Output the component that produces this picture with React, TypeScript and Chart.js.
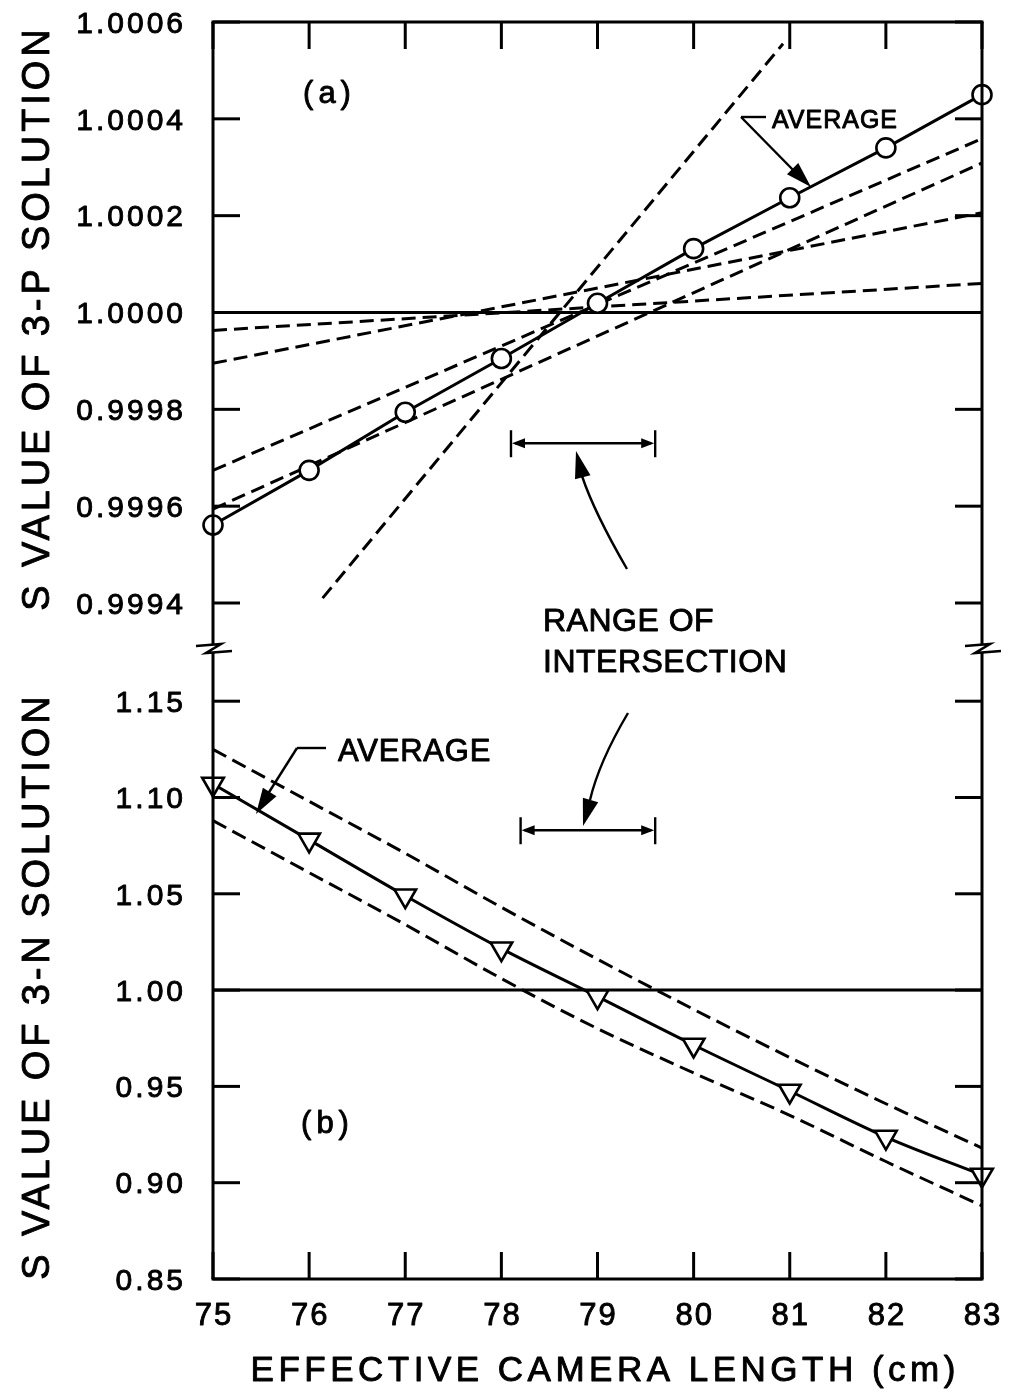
import React, { useEffect, useRef } from "react";
import { Chart, registerables } from "chart.js";

Chart.register(...registerables);

// ---------- data ----------
const cameraLength = [75, 76, 77, 78, 79, 80, 81, 82, 83];

// (a) 3-P solution
const pAverage = [0.999561, 0.999674, 0.999794, 0.999905, 1.000019, 1.000132, 1.000237, 1.00034, 1.00045];
const pLineAX = [75, 83];
const pLineAY = [0.999963, 1.00006];
const pLineBX = [75, 83];
const pLineBY = [0.999895, 1.000206];
const pLineCX = [75, 83];
const pLineCY = [0.999674, 1.000359];
const pLineDX = [75, 83];
const pLineDY = [0.999594, 1.000309];
const pLineEX = [76.14, 80.93];
const pLineEY = [0.99941, 1.000555];
const unityX = [75, 83];
const unityY = [1, 1];

// (b) 3-N solution
const nAverage = [1.107, 1.078, 1.049, 1.0215, 0.9966, 0.9715, 0.9476, 0.9237, 0.904];
const nUpper = [1.125, 1.098, 1.071, 1.043, 1.016, 0.99, 0.965, 0.941, 0.918];
const nLower = [1.088, 1.061, 1.034, 1.006, 0.98, 0.957, 0.935, 0.911, 0.888];

// ticks
const xTickValues = [75, 76, 77, 78, 79, 80, 81, 82, 83];
const xTickLabels = ["75", "76", "77", "78", "79", "80", "81", "82", "83"];
const pTickValues = [0.9994, 0.9996, 0.9998, 1.0, 1.0002, 1.0004, 1.0006];
const pTickLabels = ["0.9994", "0.9996", "0.9998", "1.0000", "1.0002", "1.0004", "1.0006"];
const nTickValues = [0.85, 0.9, 0.95, 1.0, 1.05, 1.1, 1.15];
const nTickLabels = ["0.85", "0.90", "0.95", "1.00", "1.05", "1.10", "1.15"];

// range of intersection
const pRangeX = [78.1, 79.6];
const pRangeY = 0.99973;
const nRangeX = [78.2, 79.6];
const nRangeY = 1.083;

// ---------- helpers ----------
const FONT = '"Liberation Sans", Arial, sans-serif';

const pts = (xs: number[], ys: number[]) => xs.map((x, i) => ({ x, y: ys[i] }));

function drawText(
  ctx: CanvasRenderingContext2D,
  s: string,
  x: number,
  cy: number,
  size: number,
  spacing: number,
  align: "left" | "center" | "right",
  rotate = false
) {
  ctx.save();
  ctx.font = `${size}px ${FONT}`;
  (ctx as any).letterSpacing = "0px";
  const n = Array.from(s).length;
  const w = ctx.measureText(s).width + spacing * (n - 1);
  ctx.textAlign = "left";
  ctx.textBaseline = "alphabetic";
  (ctx as any).letterSpacing = spacing + "px";
  ctx.fillStyle = "#000";
  ctx.strokeStyle = "#000";
  ctx.lineWidth = 0.9;
  ctx.lineJoin = "round";
  const base = 0.358 * size;
  if (rotate) {
    ctx.translate(x, cy);
    ctx.rotate(-Math.PI / 2);
    ctx.fillText(s, -w / 2, base);
    ctx.strokeText(s, -w / 2, base);
  } else {
    const x0 = align === "left" ? x : align === "center" ? x - w / 2 : x - w;
    ctx.fillText(s, x0, cy + base);
    ctx.strokeText(s, x0, cy + base);
  }
  ctx.restore();
}

function seg(ctx: CanvasRenderingContext2D, x1: number, y1: number, x2: number, y2: number) {
  ctx.beginPath();
  ctx.moveTo(x1, y1);
  ctx.lineTo(x2, y2);
  ctx.stroke();
}

function arrowHead(
  ctx: CanvasRenderingContext2D,
  tipX: number,
  tipY: number,
  fromX: number,
  fromY: number,
  len: number,
  half: number
) {
  const a = Math.atan2(tipY - fromY, tipX - fromX);
  const bx = tipX - Math.cos(a) * len;
  const by = tipY - Math.sin(a) * len;
  const px = -Math.sin(a) * half;
  const py = Math.cos(a) * half;
  ctx.beginPath();
  ctx.moveTo(tipX, tipY);
  ctx.lineTo(bx + px, by + py);
  ctx.lineTo(bx - px, by - py);
  ctx.closePath();
  ctx.fill();
}

function breakMark(ctx: CanvasRenderingContext2D, x: number, y: number) {
  ctx.beginPath();
  ctx.moveTo(x - 17, y - 3);
  ctx.lineTo(x + 8, y - 5);
  ctx.lineTo(x - 7, y + 4);
  ctx.lineTo(x + 19, y + 2);
  ctx.stroke();
}

const TICK = 27;

const overlayPlugin = {
  id: "overlay",
  beforeDraw(chart: any) {
    const ctx = chart.ctx as CanvasRenderingContext2D;
    ctx.save();
    ctx.fillStyle = "#fff";
    ctx.fillRect(0, 0, chart.width, chart.height);
    ctx.restore();
  },
  afterDraw(chart: any) {
    const ctx = chart.ctx as CanvasRenderingContext2D;
    const xs = chart.scales.x;
    const yp = chart.scales.yTop;
    const yn = chart.scales.yBot;
    const L = chart.chartArea.left;
    const R = chart.chartArea.right;
    const T = yp.top;
    const M = yp.bottom;
    const B = yn.bottom;

    ctx.save();
    ctx.strokeStyle = "#000";
    ctx.fillStyle = "#000";
    ctx.lineWidth = 3;
    ctx.lineCap = "butt";

    // frame
    seg(ctx, L - 1.5, T, R + 1.5, T);
    seg(ctx, L - 1.5, B, R + 1.5, B);
    seg(ctx, L, T, L, M - 4);
    seg(ctx, L, M + 3, L, B);
    seg(ctx, R, T, R, M - 4);
    seg(ctx, R, M + 3, R, B);
    ctx.lineWidth = 2.6;
    breakMark(ctx, L, M);
    breakMark(ctx, R, M);
    ctx.lineWidth = 3;

    // ticks (inward)
    xTickValues.forEach((v) => {
      const px = xs.getPixelForValue(v);
      seg(ctx, px, T, px, T + TICK);
      seg(ctx, px, B, px, B - TICK);
    });
    pTickValues.forEach((v) => {
      const py = yp.getPixelForValue(v);
      seg(ctx, L, py, L + TICK, py);
      seg(ctx, R, py, R - TICK, py);
    });
    nTickValues.forEach((v) => {
      const py = yn.getPixelForValue(v);
      seg(ctx, L, py, L + TICK, py);
      seg(ctx, R, py, R - TICK, py);
    });

    // tick labels
    pTickValues.forEach((v, i) => {
      drawText(ctx, pTickLabels[i], L - 30, yp.getPixelForValue(v), 30, 3, "right");
    });
    nTickValues.forEach((v, i) => {
      drawText(ctx, nTickLabels[i], L - 30, yn.getPixelForValue(v), 30, 3, "right");
    });
    xTickValues.forEach((v, i) => {
      drawText(ctx, xTickLabels[i], xs.getPixelForValue(v), B + 35, 31, 2, "center");
    });

    // axis titles
    drawText(ctx, "EFFECTIVE CAMERA LENGTH (cm)", 603, 1368, 35, 4.5, "center");
    drawText(ctx, "S VALUE OF 3-P SOLUTION", 35, 320, 38, 3.9, "center", true);
    drawText(ctx, "S VALUE OF 3-N SOLUTION", 35, 988, 38, 3.9, "center", true);

    // panel labels
    drawText(ctx, "(a)", 327, 92, 31, 5, "center");
    drawText(ctx, "(b)", 325, 1122, 31, 5, "center");

    // AVERAGE (a)
    drawText(ctx, "AVERAGE", 772, 119, 25, 1, "left");
    ctx.lineWidth = 2.4;
    seg(ctx, 766, 117, 741, 117);
    seg(ctx, 741, 117, 798, 175);
    arrowHead(ctx, 811, 187, 741, 117, 26, 8);

    // AVERAGE (b)
    drawText(ctx, "AVERAGE", 338, 750, 31, 0.8, "left");
    seg(ctx, 326, 748, 297, 748);
    seg(ctx, 297, 748, 266, 797);
    arrowHead(ctx, 256, 814, 297, 748, 26, 8);

    // RANGE OF INTERSECTION
    drawText(ctx, "RANGE OF", 543, 620, 32, 0.5, "left");
    drawText(ctx, "INTERSECTION", 543, 661, 32, 0.5, "left");

    // upward curved arrow
    ctx.beginPath();
    ctx.moveTo(627, 569);
    ctx.quadraticCurveTo(594, 512, 582, 476);
    ctx.stroke();
    arrowHead(ctx, 576, 451, 584, 482, 27, 8);

    // downward curved arrow
    ctx.beginPath();
    ctx.moveTo(628, 713);
    ctx.quadraticCurveTo(599, 762, 590, 800);
    ctx.stroke();
    arrowHead(ctx, 583, 826, 592, 795, 27, 8);

    // range bars
    const rangeBar = (x1: number, x2: number, y: number) => {
      ctx.lineWidth = 2.4;
      seg(ctx, x1, y - 13, x1, y + 14);
      seg(ctx, x2, y - 13, x2, y + 14);
      seg(ctx, x1 + 4, y, x2 - 4, y);
      arrowHead(ctx, x1 + 1, y, x1 + 20, y, 13, 5);
      arrowHead(ctx, x2 - 1, y, x2 - 20, y, 13, 5);
    };
    rangeBar(xs.getPixelForValue(pRangeX[0]), xs.getPixelForValue(pRangeX[1]), yp.getPixelForValue(pRangeY));
    rangeBar(xs.getPixelForValue(nRangeX[0]), xs.getPixelForValue(nRangeX[1]), yn.getPixelForValue(nRangeY));

    ctx.restore();
  },
};

const DASH_P = [14, 7];
const DASH_N = [15, 7];

function lineDs(data: any[], yAxisID: string, dash: number[], width = 3, tension = 0) {
  return {
    data,
    yAxisID,
    xAxisID: "x",
    showLine: true,
    borderColor: "#000",
    borderWidth: width,
    borderDash: dash,
    pointRadius: 0,
    pointHoverRadius: 0,
    tension,
    clip: false,
    fill: false,
  };
}

export default function App() {
  const ref = useRef<HTMLCanvasElement>(null);

  useEffect(() => {
    if (!ref.current) return;
    const hidden = {
      ticks: { display: false },
      grid: { display: false, drawTicks: false },
      border: { display: false },
      title: { display: false },
    };
    const chart = new Chart(ref.current, {
      type: "scatter",
      data: {
        datasets: [
          {
            data: pts(cameraLength, pAverage),
            yAxisID: "yTop",
            xAxisID: "x",
            showLine: true,
            borderColor: "#000",
            borderWidth: 3,
            pointStyle: "circle",
            pointRadius: 9.5,
            pointBackgroundColor: "#fff",
            pointBorderColor: "#000",
            pointBorderWidth: 2.6,
            clip: false,
          } as any,
          {
            data: pts(cameraLength, nAverage),
            yAxisID: "yBot",
            xAxisID: "x",
            showLine: true,
            borderColor: "#000",
            borderWidth: 3,
            cubicInterpolationMode: "monotone",
            pointStyle: "triangle",
            pointRotation: 180,
            pointRadius: 12.5,
            pointBackgroundColor: "#fff",
            pointBorderColor: "#000",
            pointBorderWidth: 2.6,
            clip: false,
          } as any,
          lineDs(pts(unityX, unityY), "yTop", []),
          lineDs(pts(pLineAX, pLineAY), "yTop", DASH_P),
          lineDs(pts(pLineBX, pLineBY), "yTop", DASH_P),
          lineDs(pts(pLineCX, pLineCY), "yTop", DASH_P),
          lineDs(pts(pLineDX, pLineDY), "yTop", DASH_P),
          lineDs(pts(pLineEX, pLineEY), "yTop", DASH_P),
          lineDs(pts(unityX, unityY), "yBot", []),
          { ...lineDs(pts(cameraLength, nUpper), "yBot", DASH_N), cubicInterpolationMode: "monotone" } as any,
          { ...lineDs(pts(cameraLength, nLower), "yBot", DASH_N), cubicInterpolationMode: "monotone" } as any,
        ],
      },
      options: {
        animation: false,
        responsive: false,
        devicePixelRatio: 1,
        events: [],
        layout: { padding: { left: 213, right: 28, top: 22, bottom: 116 } },
        plugins: { legend: { display: false }, tooltip: { enabled: false } },
        scales: {
          x: { type: "linear", min: 75, max: 83, position: "bottom", ...hidden },
          yBot: {
            type: "linear",
            min: 0.85,
            max: 1.1771,
            position: "left",
            stack: "panels",
            stackWeight: 630,
            weight: 1,
            ...hidden,
          },
          yTop: {
            type: "linear",
            min: 0.999305,
            max: 1.0006,
            position: "left",
            stack: "panels",
            stackWeight: 627,
            weight: 2,
            ...hidden,
          },
        } as any,
      },
      plugins: [overlayPlugin as any],
    });
    return () => chart.destroy();
  }, []);

  return (
    <div style={{ position: "absolute", left: 0, top: 0, width: 1010, height: 1395, background: "#fff" }}>
      <canvas ref={ref} width={1010} height={1395} style={{ display: "block", width: 1010, height: 1395 }} />
    </div>
  );
}
